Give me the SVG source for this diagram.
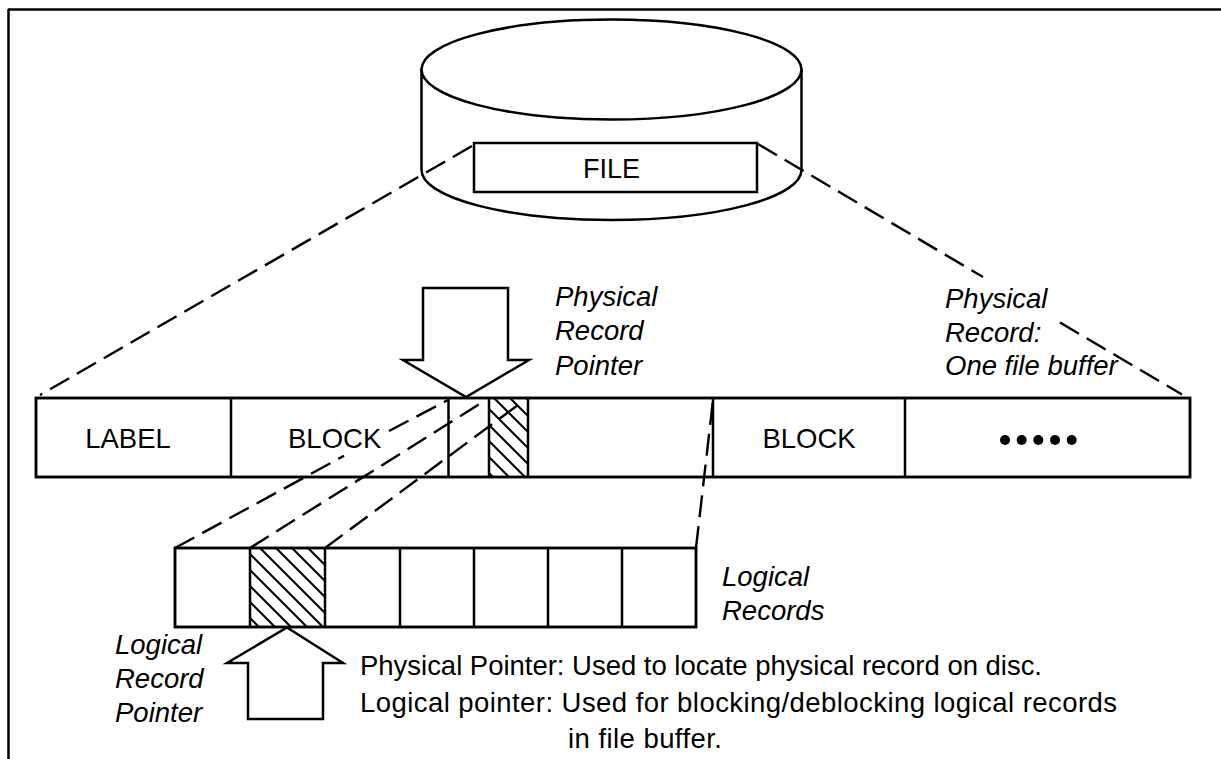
<svg xmlns="http://www.w3.org/2000/svg" width="1221" height="759" viewBox="0 0 1221 759">
<style>
.s{fill:#fff;stroke:#000;stroke-width:2.5;stroke-linejoin:miter}
.ln{fill:none;stroke:#000;stroke-width:2.5}
.d{fill:none;stroke:#000;stroke-width:2.4;stroke-dasharray:22 9}
.t{font-family:"Liberation Sans",Arial,Helvetica,sans-serif;font-size:27.5px;fill:#000}
.i{font-family:"Liberation Sans",Arial,Helvetica,sans-serif;font-size:27.5px;font-style:italic;fill:#000}
.m{text-anchor:middle}
</style>
<defs>
<pattern id="hatch" patternUnits="userSpaceOnUse" width="16" height="16">
<path d="M-4,-4 L20,20 M-4,12 L4,20 M12,-4 L20,4" stroke="#000" stroke-width="2" fill="none"/>
</pattern>
</defs>
<rect x="0" y="0" width="1221" height="759" fill="#fff"/>
<g id="border">
<path class="ln" d="M8,9.5 H1221 M8.5,9 V759" stroke-width="2"/>
</g>
<g id="disk">
<path class="s" d="M421.5,69.5 V170 A190,50 0 0 0 801.5,170 V69.5 Z"/>
<ellipse class="s" cx="611.5" cy="69.5" rx="190" ry="50"/>
</g>
<g id="connectors">
<line class="d" x1="472" y1="146" x2="40" y2="395"/>
<line class="d" x1="758" y1="144" x2="983" y2="277"/>
<line class="d" x1="1060" y1="322.5" x2="1182" y2="394.5"/>
</g>
<g id="file">
<rect class="s" x="474" y="143" width="283" height="49"/>
<text class="t m" x="611.5" y="178" style="font-size:27px">FILE</text>
</g>
<g id="physical-record-bar">
<rect class="s" x="36" y="398" width="1154" height="79"/>
<rect x="489" y="398" width="39" height="79" fill="url(#hatch)"/>
<path class="ln" d="M231,398 V477 M448.5,398 V477 M489,398 V477 M528,398 V477 M713,398 V477 M905,398 V477"/>
<rect class="ln" x="36" y="398" width="1154" height="79"/>
<text class="t m" x="128" y="448">LABEL</text>
<text class="t" x="288" y="448">BLOCK</text>
<text class="t m" x="809" y="448">BLOCK</text>
<circle cx="1005" cy="440" r="5"/>
<circle cx="1021.7" cy="440" r="5"/>
<circle cx="1038.3" cy="440" r="5"/>
<circle cx="1055" cy="440" r="5"/>
<circle cx="1071.7" cy="440" r="5"/>
</g>
<g id="logical-records">
<rect class="s" x="175" y="548" width="521" height="79"/>
<rect x="250" y="548" width="75" height="79" fill="url(#hatch)"/>
<path class="ln" d="M250,548 V627 M325,548 V627 M400,548 V627 M474,548 V627 M548,548 V627 M622,548 V627"/>
<rect class="ln" x="175" y="548" width="521" height="79"/>
</g>
<g id="block-connectors">
<line class="d" x1="175" y1="548" x2="344" y2="455.8"/>
<line class="d" x1="389" y1="431" x2="448" y2="400"/>
<line class="d" x1="250" y1="548" x2="486" y2="400"/>
<line class="d" x1="325" y1="548" x2="522" y2="402"/>
<line class="d" x1="696" y1="548" x2="713" y2="400"/>
</g>
<g id="physical-pointer">
<polygon class="s" points="423,288 508,288 508,360 529,360 466,397 403,360 423,360"/>
</g>
<g id="logical-pointer">
<polygon class="s" points="287,627.5 343,663 323,663 323,719 248,719 248,663 227,663"/>
</g>
<g id="labels">
<text class="i" x="555" y="306">Physical</text>
<text class="i" x="555" y="340">Record</text>
<text class="i" x="555" y="375">Pointer</text>
<text class="i" x="945" y="308">Physical</text>
<text class="i" x="945" y="342">Record:</text>
<text class="i" x="945" y="375">One file buffer</text>
<text class="i" x="722" y="586">Logical</text>
<text class="i" x="722" y="620">Records</text>
<text class="i" x="115" y="654">Logical</text>
<text class="i" x="115" y="688">Record</text>
<text class="i" x="115" y="722">Pointer</text>
<text class="t" x="360" y="675" textLength="682" lengthAdjust="spacing">Physical Pointer: Used to locate physical record on disc.</text>
<text class="t" x="360" y="712" textLength="757" lengthAdjust="spacing">Logical pointer: Used for blocking/deblocking logical records</text>
<text class="t" x="568" y="748" textLength="154" lengthAdjust="spacing">in file buffer.</text>
</g>
</svg>
